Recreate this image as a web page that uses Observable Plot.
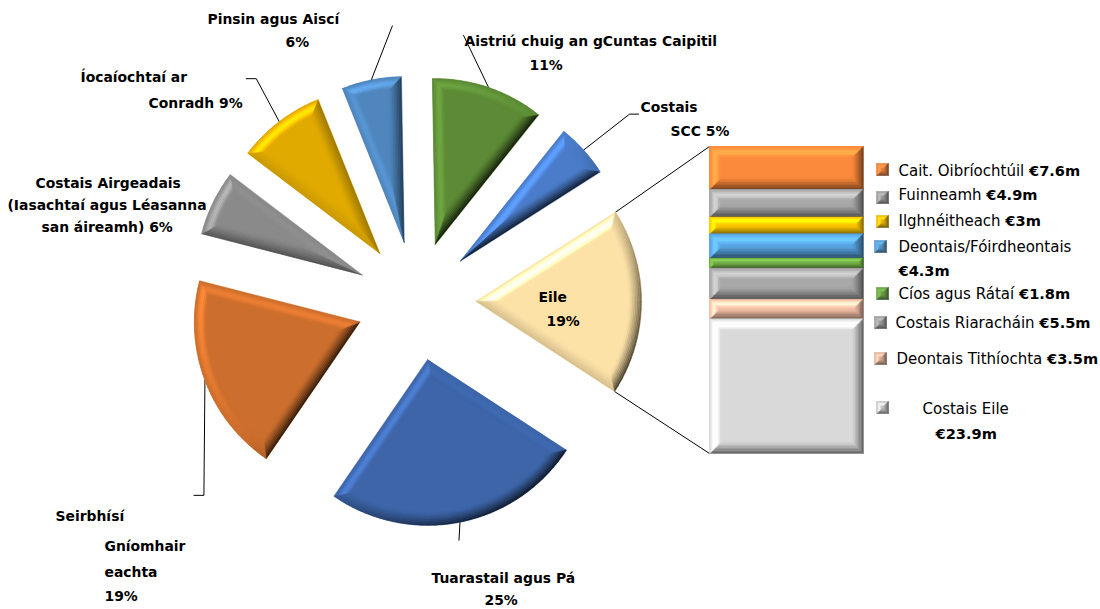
<!DOCTYPE html>
<html><head><meta charset="utf-8">
<script src="https://cdn.jsdelivr.net/npm/d3@7"></script>
<script src="https://cdn.jsdelivr.net/npm/@observablehq/plot@0.6"></script>
<style>html,body{margin:0;padding:0;background:#fff}svg{display:block}.bevel{filter:blur(.35px)}</style>
</head><body><div id="chart"></div>
<script>
// ---- data ----
const pieCategories = ["Aistriú chuig an gCuntas Caipitil","Costais SCC","Eile","Tuarastail agus Pá","Seirbhísí Gníomhaireachta","Costais Airgeadais","Íocaíochtaí ar Conradh","Pinsin agus Aiscí"];
const pieShares = [11.0,5.25,18.25,25.4,19.45,6.35,8.6,5.8];
const pieColors = ["#5c8a36","#4a7cc9","#fde2a8","#3d65a8","#cc6e2d","#8a8a8a","#e0aa00","#4f86bd"];
const stackCategories = ["Cait. Oibríochtúil","Fuinneamh","Ilghnéitheach","Deontais/Fóirdheontais","Cíos agus Rátaí","Costais Riaracháin","Deontais Tithíochta","Costais Eile"];
const stackValues = [7.6,4.9,3,4.3,1.8,5.5,3.5,23.9];
const stackColors = ["#fb8a3c","#a8a8a8","#ffc800","#5aa5e2","#70ad47","#a8a8a8","#f2bfa6","#d9d9d9"];

// ---- layout ----
const FONT = "'DejaVu Sans'";
const BOLD_SIZE = 13.9, VALUE_SIZE = 14.6, REG_SIZE = 15.0;
const cx = 415.5, cy = 300.5, R = 165.5, EXPLODE = 60, START = -1 * Math.PI / 180;
const stackBox = {x1: 709, x2: 863, y1: 146, y2: 453};
// leader line elbows, relative to each slice's arc midpoint (null = none)
const leaderTurns = [
  [[-25,-52]],
  [[46,-36],[55,-36]],
  null,
  [[-1,18]],
  [[-1,115],[-11,115]],
  null,
  [[-23,-43],[-33,-43]],
  [[21,-54]]
];
const boldLines = [
  ["Pinsin agus Aiscí",207,19],["6%",285,42],
  ["Íocaíochtaí ar",80,77],["Conradh 9%",148,103],
  ["Costais Airgeadais",35,183],["(Iasachtaí agus Léasanna",7,205],["san áireamh) 6%",41,227],
  ["Aistriú chuig an gCuntas Caipitil",464,41],["11%",529,65],
  ["Costais",640,107],["SCC 5%",670,131],
  ["Eile",538,297],["19%",546,321],
  ["Seirbhísí",55,516],["Gníomhair",104,546],["eachta",104,572],["19%",104,596],
  ["Tuarastail agus Pá",431,578],["25%",484,600]
];
const legendRows = [
  {label:"Cait. Oibríochtúil", value:"€7.6m", x:898, y:171, kx:882, ky:169},
  {label:"Fuinneamh", value:"€4.9m", x:898, y:195, kx:882, ky:197},
  {label:"Ilghnéitheach", value:"€3m", x:898, y:221, kx:882, ky:221},
  {label:"Deontais/Fóirdheontais", value:"", x:898, y:247, kx:880, ky:246},
  {label:"", value:"€4.3m", x:898, y:271},
  {label:"Cíos agus Rátaí", value:"€1.8m", x:898, y:294, kx:882, ky:293},
  {label:"Costais Riaracháin", value:"€5.5m", x:895, y:323, kx:880, ky:322},
  {label:"Deontais Tithíochta", value:"€3.5m", x:896, y:359, kx:880, ky:358},
  {label:"Costais Eile", value:"", x:922, y:409, kx:882, ky:407},
  {label:"", value:"€23.9m", x:935, y:434}
];
const legendKeyOrder = [0,1,2,3,null,4,5,6,7,null];

// ---- geometry ----
const LEVELS = 8, BEVEL = 13;
const light = [-0.7071,-0.7071];
function shade(base, nx, ny, t){
  const s = nx*light[0] + ny*light[1];
  if (s > 0) {
    const c=d3.rgb(base), lum=(0.3*c.r+0.59*c.g+0.11*c.b)/255, p=Math.sin(Math.PI*t);
    return c.brighter(s*(0.4+0.85*lum)*p*p).formatHex();
  }
  return d3.rgb(d3.interpolateRgb(base,"#000")(Math.min(1,-s*0.8*Math.pow(1-t,1.2)))).formatHex();
}
const polys = [];
let polyId = 0;
function addPoly(pts, color){ const z = polyId++; pts.forEach(p => polys.push({x:p[0],y:p[1],z,color})); }
const pieArcs = d3.pie().sort(null).startAngle(START).endAngle(START + 2*Math.PI)(pieShares);
function wedgeLevel(a0,a1,ox,oy,d,n){
  const half=(a1-a0)/2, mid=(a0+a1)/2, ad=d===0?0:d/Math.sin(half), rr=R-d, del=Math.asin(d/rr);
  const apex=[ox+ad*Math.sin(mid), oy-ad*Math.cos(mid)], arc=[];
  for(let i=0;i<=n;i++){const a=a0+del+(a1-a0-2*del)*i/n; arc.push([ox+rr*Math.sin(a), oy-rr*Math.cos(a), a]);}
  return {apex,arc};
}
function drawWedge(a0,a1,color){
  const mid=(a0+a1)/2, ox=cx+EXPLODE*Math.sin(mid), oy=cy-EXPLODE*Math.cos(mid);
  const n=Math.max(8,Math.round((a1-a0)*180/Math.PI/2.5));
  const outer=wedgeLevel(a0,a1,ox,oy,0,n);
  addPoly([outer.apex,...outer.arc],color);
  for(let l=0;l<LEVELS;l++){
    const d1=BEVEL*l/LEVELS,d2=BEVEL*(l+1)/LEVELS,t=(l+.5)/LEVELS;
    const A=wedgeLevel(a0,a1,ox,oy,d1,n),B=wedgeLevel(a0,a1,ox,oy,d2,n);
    addPoly([A.apex,A.arc[0],B.arc[0],B.apex],shade(color,Math.sin(a0-Math.PI/2),-Math.cos(a0-Math.PI/2),t));
    addPoly([A.apex,A.arc[n],B.arc[n],B.apex],shade(color,Math.sin(a1+Math.PI/2),-Math.cos(a1+Math.PI/2),t));
    for(let i=0;i<n;i++){const am=(A.arc[i][2]+A.arc[i+1][2])/2;
      addPoly([A.arc[i],A.arc[i+1],B.arc[i+1],B.arc[i]],shade(color,Math.sin(am),-Math.cos(am),t));}
  }
  return {ox,oy};
}
function drawBox(x0,y0,x1,y1,color,bevel){
  const dm=Math.min(bevel,(y1-y0)/2,(x1-x0)/2);
  for(let l=0;l<LEVELS;l++){
    const d1=dm*l/LEVELS,d2=dm*(l+1)/LEVELS,t=(l+.5)/LEVELS;
    const q=(d)=>[[x0+d,y0+d],[x1-d,y0+d],[x1-d,y1-d],[x0+d,y1-d]];
    const a=q(d1),b=q(d2);
    [[0,1,0,-1],[1,2,1,0],[2,3,0,1],[3,0,-1,0]].forEach(([i,j,nx,ny])=>addPoly([a[i],a[j],b[j],b[i]],shade(color,nx,ny,t)));
  }
}
// slices
const sliceInfo = pieArcs.map((a,i)=>({...drawWedge(a.startAngle,a.endAngle,pieColors[i]),a0:a.startAngle,a1:a.endAngle}));
// stacked bar from values
const total = d3.sum(stackValues), k=(stackBox.y2-stackBox.y1)/total;
let cum=0;
const stackRows = stackValues.map((v,i)=>{const r={name:stackCategories[i],x1:stackBox.x1,x2:stackBox.x2,y1:stackBox.y1+cum*k,y2:stackBox.y1+(cum+v)*k,color:stackColors[i]};cum+=v;return r;});
stackRows.forEach(r=>drawBox(r.x1,r.y1,r.x2,r.y2,r.color,12));
// legend keys
legendRows.forEach((r,i)=>{ if(legendKeyOrder[i]!==null) drawBox(r.kx-6,r.ky-6,r.kx+6,r.ky+6,stackColors[legendKeyOrder[i]]==="#d9d9d9"?"#bdbdbd":d3.color(stackColors[legendKeyOrder[i]]).darker(0.35).formatHex(),6); });

// leaders
const leaders=[];
sliceInfo.forEach((s,i)=>{ const t=leaderTurns[i]; if(!t) return;
  const mid=(s.a0+s.a1)/2, sx=s.ox+R*Math.sin(mid), sy=s.oy-R*Math.cos(mid);
  [[0,0],...t].forEach(([dx,dy])=>leaders.push({x:sx+dx,y:sy+dy,z:i}));
});
const eile=sliceInfo[2];
[[eile.a0,stackBox.y1],[eile.a1,stackBox.y2]].forEach(([a,yb],j)=>{
  leaders.push({x:eile.ox+R*Math.sin(a),y:eile.oy-R*Math.cos(a),z:"s"+j},{x:stackBox.x1,y:yb,z:"s"+j});
});

// measure regular label widths so the bold value follows directly
const ctx=document.createElement("canvas").getContext("2d");
ctx.font=`${REG_SIZE}px 'DejaVu Sans'`;
const valueRows=legendRows.filter(r=>r.value).map(r=>({text:r.value,x:r.x+(r.label?ctx.measureText(r.label+" ").width:0),y:r.y}));

const svg = Plot.plot({
  width:1100,height:609,margin:0,
  x:{domain:[0,1100],range:[0,1100],axis:null},
  y:{domain:[0,609],range:[0,609],axis:null},
  color:{type:"identity"},
  style:{background:"#fff"},
  marks:[
    Plot.line(leaders,{x:"x",y:"y",z:"z",stroke:"#000",strokeWidth:1}),
    Plot.rect(stackRows,{x1:"x1",x2:"x2",y1:"y1",y2:"y2",fill:"color"}),
    Plot.line(polys,{x:"x",y:"y",z:"z",fill:"color",stroke:"color",strokeWidth:0.4,curve:"linear-closed",className:"bevel"}),
    Plot.text(boldLines,{x:d=>d[1],y:d=>d[2],text:d=>d[0],textAnchor:"start",fontWeight:"bold",fontSize:BOLD_SIZE,fontFamily:FONT,fill:"#000"}),
    Plot.text(legendRows.filter(r=>r.label),{x:"x",y:"y",text:"label",textAnchor:"start",fontSize:REG_SIZE,fontFamily:FONT,fill:"#000"}),
    Plot.text(valueRows,{x:"x",y:"y",text:"text",textAnchor:"start",fontWeight:"bold",fontSize:VALUE_SIZE,fontFamily:FONT,fill:"#000"})
  ]
});
document.getElementById("chart").append(svg);
</script></body></html>
